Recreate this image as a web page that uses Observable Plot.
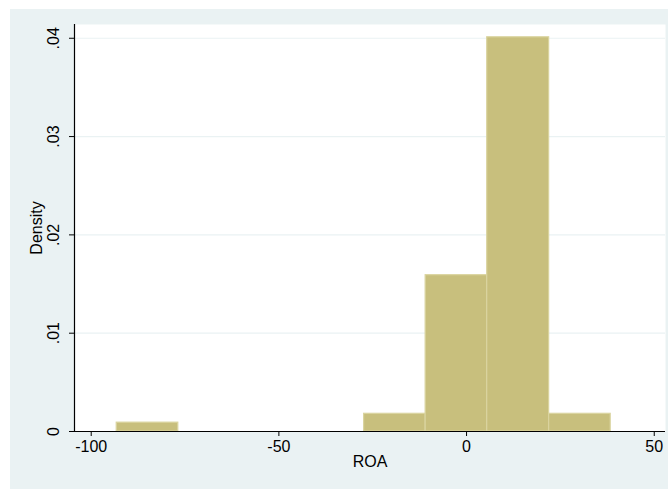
<!DOCTYPE html>
<html>
<head>
<meta charset="utf-8">
<script src="https://cdn.jsdelivr.net/npm/d3@7"></script>
<script src="https://cdn.jsdelivr.net/npm/@observablehq/plot@0.6"></script>
<style>
  html, body { margin: 0; padding: 0; background: #ffffff; }
  #wrap { position: absolute; left: 10px; top: 9px; width: 658px; height: 480px; background: #eaf2f3; }
  #chart { position: absolute; left: 0; top: 0; }
  svg { font-family: "Liberation Sans", Arial, Helvetica, sans-serif; }
</style>
</head>
<body>
<div id="wrap"></div>
<div id="chart"></div>
<script>
// Histogram bins (ROA) and densities
const binLo   = [-93.2, -27.3, -10.9, 5.5, 22.0];
const binHi   = [-76.8, -10.9, 5.5, 22.0, 38.4];
const density = [0.0009, 0.0018, 0.0159, 0.0401, 0.0018];

const xTicks = [-100, -50, 0, 50];
const yTicks = [0, 0.01, 0.02, 0.03, 0.04];
const yTickLabels = ["0", ".01", ".02", ".03", ".04"];
const gridValues = [0.01, 0.02, 0.03, 0.04];
const xLabel = "ROA";
const yLabel = "Density";

const bars = binLo.map((lo, i) => ({lo, hi: binHi[i], d: density[i]}));
const yLabs = yTicks.map((v, i) => ({v, t: yTickLabels[i]}));

const xMin = -104.45, xMax = 53.0;

const chart = Plot.plot({
  width: 668,
  height: 489,
  marginLeft: 74,
  marginRight: 3,
  marginTop: 24,
  marginBottom: 58,
  style: {background: "transparent", fontSize: "16px", fontFamily: "'Liberation Sans', Arial, Helvetica, sans-serif", color: "#000"},
  x: {domain: [xMin, xMax]},
  y: {domain: [0, 0.0414]},
  marks: [
    Plot.frame({fill: "#ffffff", stroke: "none"}),
    Plot.ruleY(gridValues, {stroke: "#eaf2f3", strokeWidth: 1.2}),
    Plot.rectY(bars, {x1: "lo", x2: "hi", y1: 0, y2: "d", fill: "#c8bf7d", stroke: "#dad49f", strokeWidth: 1.2}),
    Plot.ruleY([0], {stroke: "#000", strokeWidth: 1.2}),
    Plot.ruleX([xMin], {stroke: "#000", strokeWidth: 1.2}),
    Plot.axisX({ticks: xTicks, tickSize: 5, tickPadding: 4, tickFormat: d => String(d), label: null, fontSize: 16}),
    Plot.axisY({ticks: yTicks, tickSize: 5, tickFormat: () => "", label: null}),
    Plot.text(yLabs, {y: "v", text: "t", frameAnchor: "left", textAnchor: "middle", dx: -21, rotate: -90, fontSize: 16}),
    Plot.text([yLabel], {frameAnchor: "left", textAnchor: "middle", dx: -38, rotate: -90, fontSize: 16}),
    Plot.text([xLabel], {frameAnchor: "bottom", dy: 35, fontSize: 16})
  ]
});
document.getElementById("chart").appendChild(chart);
</script>
</body>
</html>
